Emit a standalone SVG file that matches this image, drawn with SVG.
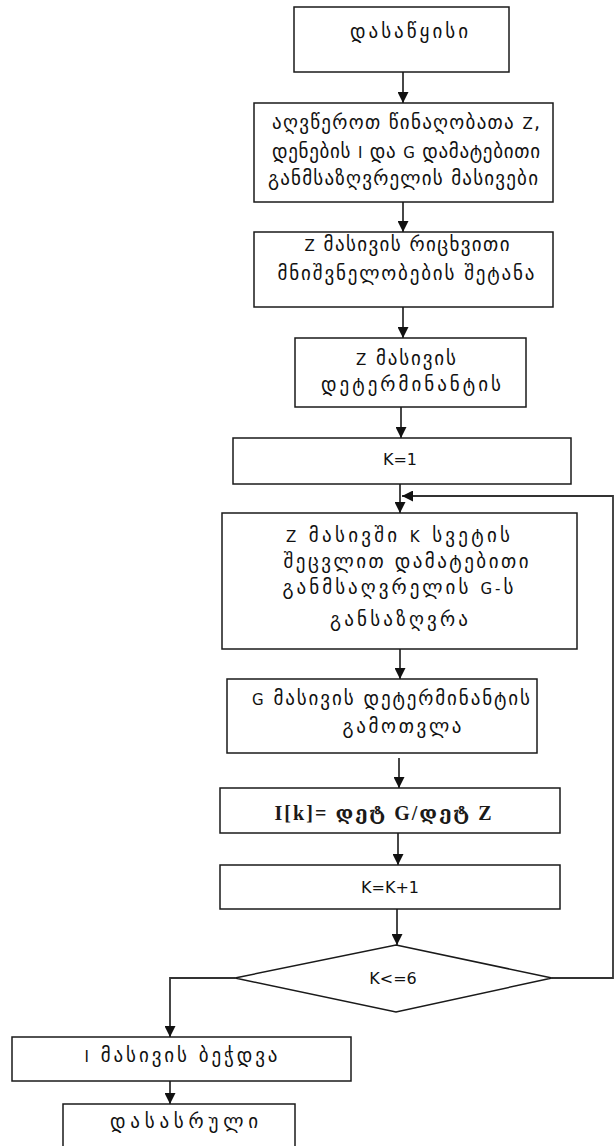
<svg xmlns="http://www.w3.org/2000/svg" width="616" height="1146" viewBox="0 0 616 1146">
<style>
.box{fill:#fff;stroke:#1a1a1a;stroke-width:1.5}
.ge{font-family:"DejaVu Sans",sans-serif;font-size:19px;fill:#111;text-anchor:middle}
.lt{font-size:15px}
.la{font-family:"DejaVu Sans",sans-serif;font-size:16px;fill:#111;text-anchor:middle}
.sr{font-family:"Liberation Serif","DejaVu Serif",serif;font-size:20px;fill:#1c1a18;text-anchor:middle;font-weight:bold}
.c{fill:none;stroke:#333;stroke-width:1.8}
</style>
<defs>
<marker id="ah" viewBox="0 0 10 10" refX="10" refY="5" markerWidth="11" markerHeight="11" markerUnits="userSpaceOnUse" orient="auto">
<path d="M0,0 L10,5 L0,10 Z" fill="#111"/>
</marker>
</defs>
<rect width="616" height="1146" fill="#fff"/>
<g id="connectors">
<line class="c" x1="403" y1="72" x2="403" y2="103" marker-end="url(#ah)"/>
<line class="c" x1="403" y1="202" x2="403" y2="232" marker-end="url(#ah)"/>
<line class="c" x1="403" y1="307" x2="403" y2="338" marker-end="url(#ah)"/>
<line class="c" x1="401" y1="407" x2="401" y2="438" marker-end="url(#ah)"/>
<line class="c" x1="400" y1="484" x2="400" y2="513" marker-end="url(#ah)"/>
<line class="c" x1="400" y1="649" x2="400" y2="679" marker-end="url(#ah)"/>
<line class="c" x1="399" y1="758" x2="399" y2="788" marker-end="url(#ah)"/>
<line class="c" x1="398" y1="833" x2="398" y2="865" marker-end="url(#ah)"/>
<line class="c" x1="397" y1="909" x2="397" y2="945" marker-end="url(#ah)"/>
<polyline class="c" points="552,978 613,978 613,496 402,496" marker-end="url(#ah)"/>
<polyline class="c" points="235,978 170,978 170,1037" marker-end="url(#ah)"/>
<line class="c" x1="170" y1="1081" x2="170" y2="1104" marker-end="url(#ah)"/>
</g>
<g id="start">
<rect class="box" x="294" y="7" width="215" height="65"/>
<text class="ge" x="409" y="38" textLength="118" lengthAdjust="spacing">დასაწყისი</text>
</g>
<g id="declare">
<rect class="box" x="254" y="103" width="299" height="99"/>
<text class="ge" x="406" y="129" textLength="268" lengthAdjust="spacing">აღვწეროთ წინაღობათა <tspan class="lt">Z</tspan>,</text>
<text class="ge" x="406" y="158" textLength="268" lengthAdjust="spacing">დენების <tspan class="lt">I</tspan> და <tspan class="lt">G</tspan> დამატებითი</text>
<text class="ge" x="403" y="185" textLength="270" lengthAdjust="spacing">განმსაზღვრელის მასივები</text>
</g>
<g id="input">
<rect class="box" x="254" y="232" width="299" height="75"/>
<text class="ge" x="407" y="251" textLength="205" lengthAdjust="spacing"><tspan class="lt">Z</tspan> მასივის რიცხვითი</text>
<text class="ge" x="406" y="280" textLength="257" lengthAdjust="spacing">მნიშვნელობების შეტანა</text>
</g>
<g id="det-z">
<rect class="box" x="295" y="338" width="231" height="69"/>
<text class="ge" x="406" y="365" textLength="100" lengthAdjust="spacing"><tspan class="lt">Z</tspan> მასივის</text>
<text class="ge" x="411" y="391" textLength="180" lengthAdjust="spacing">დეტერმინანტის</text>
</g>
<g id="k-init">
<rect class="box" x="233" y="438" width="338" height="46"/>
<text class="la" x="400" y="465">K=1</text>
</g>
<g id="form-g">
<rect class="box" x="222" y="513" width="355" height="136"/>
<text class="ge" x="398" y="542" textLength="224" lengthAdjust="spacing"><tspan class="lt">Z</tspan> მასივში <tspan class="lt">K</tspan> სვეტის</text>
<text class="ge" x="406" y="568" textLength="245" lengthAdjust="spacing">შეცვლით დამატებითი</text>
<text class="ge" x="398" y="594" textLength="231" lengthAdjust="spacing">განმსაღვრელის <tspan class="lt">G-</tspan>ს</text>
<text class="ge" x="399" y="626" textLength="138" lengthAdjust="spacing">განსაზღვრა</text>
</g>
<g id="det-g">
<rect class="box" x="227" y="679" width="310" height="74"/>
<text class="ge" x="391" y="705" textLength="278" lengthAdjust="spacing"><tspan class="lt">G</tspan> მასივის დეტერმინანტის</text>
<text class="ge" x="402" y="733" textLength="119" lengthAdjust="spacing">გამოთვლა</text>
</g>
<g id="compute-i">
<rect class="box" x="220" y="788" width="340" height="45"/>
<text class="sr" x="383" y="820" textLength="217" lengthAdjust="spacing">I[k]= დეტ G/დეტ Z</text>
</g>
<g id="k-inc">
<rect class="box" x="220" y="865" width="340" height="44"/>
<text class="la" x="390" y="893">K=K+1</text>
</g>
<g id="cond">
<polygon class="box" points="396,945 552,978 396,1012 235,978"/>
<text class="la" x="393" y="984">K&lt;=6</text>
</g>
<g id="print">
<rect class="box" x="12" y="1037" width="339" height="44"/>
<text class="ge" x="181" y="1062" textLength="193" lengthAdjust="spacing"><tspan class="lt">I</tspan> მასივის ბეჭდვა</text>
</g>
<g id="end">
<rect class="box" x="63" y="1104" width="232" height="60"/>
<text class="ge" x="184" y="1128" textLength="148" lengthAdjust="spacing">დასასრული</text>
</g>
</svg>
